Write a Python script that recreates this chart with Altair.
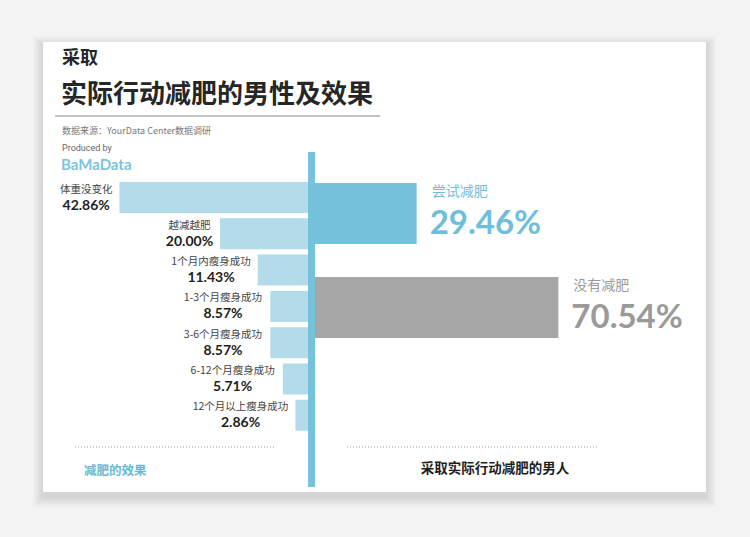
import altair as alt
import pandas as pd

# ---------------- data ----------------
effect_labels = ["体重没变化", "越减越肥", "1个月内瘦身成功", "1-3个月瘦身成功",
                 "3-6个月瘦身成功", "6-12个月瘦身成功", "12个月以上瘦身成功"]
effect_values = [42.86, 20.00, 11.43, 8.57, 8.57, 5.71, 2.86]

action_labels = ["尝试减肥", "没有减肥"]
action_values = [29.46, 70.54]

title_small = "采取"
title_main = "实际行动减肥的男性及效果"
source_text = "数据来源：YourData Center数据调研"
produced_text = "Produced by"
brand_text = "BaMaData"
left_caption = "减肥的效果"
right_caption = "采取实际行动减肥的男人"

# ---------------- styling ----------------
CJK = "Noto Sans CJK SC"
NUM = "Lato, DejaVu Sans Condensed, sans-serif"
BLUE = "#74c2dc"
HATCH = "#b3dbea"
GRAY = "#a6a6a6"

L_DOMAIN = [0, 50]
L_RANGE = [308, 88]
PX_PER = (L_RANGE[0] - L_RANGE[1]) / (L_DOMAIN[1] - L_DOMAIN[0])

R_DOMAIN = [0, 100]
R_RANGE = [315, 660]


def est_w(s, size, ascii_ratio=0.56):
    return sum(size if ord(c) > 255 else size * ascii_ratio for c in s)


pct_text = [f"{v:.2f}%" for v in effect_values]
lab_x = []
for lab, p, v in zip(effect_labels, pct_text, effect_values):
    w = max(est_w(lab, 10.5), est_w(p, 14, 0.56))
    lab_x.append(v + (7 + w / 2) / PX_PER)

left_df = pd.DataFrame({"label": effect_labels, "value": effect_values,
                        "pct": pct_text, "lab_x": lab_x})
right_df = pd.DataFrame({"label": action_labels, "share": action_values,
                         "pct": [f"{v:.2f}%" for v in action_values],
                         "tcolor": ["#6fbfdb", "#9a9a9a"]})

lx = alt.X("value:Q", scale=alt.Scale(domain=L_DOMAIN, range=L_RANGE), axis=None)
ly = alt.Y("label:N", sort=effect_labels,
           scale=alt.Scale(domain=effect_labels, range=[179.35, 433.45],
                           paddingInner=0.146, paddingOuter=0.073), axis=None)
ry = alt.Y("label:N", sort=action_labels,
           scale=alt.Scale(domain=action_labels, range=[166.5, 354.5],
                           paddingInner=0.35, paddingOuter=0.175), axis=None)
rx = alt.X("share:Q", scale=alt.Scale(domain=R_DOMAIN, range=R_RANGE), axis=None)

one = pd.DataFrame({"a": [0]})


def txt(text, x, y, size, color, font=CJK, weight="normal", align="left"):
    return alt.Chart(pd.DataFrame({"t": [text]})).mark_text(
        align=align, baseline="middle", fontSize=size, color=color,
        font=font, fontWeight=weight
    ).encode(x=alt.value(x), y=alt.value(y), text="t:N")


def box(x, x2, y, y2, color, opacity=1.0):
    return alt.Chart(one).mark_rect(color=color, opacity=opacity).encode(
        x=alt.value(x), x2=alt.value(x2), y=alt.value(y), y2=alt.value(y2))


layers = []
# card shadow (soft, slightly below)
for k in range(1, 11):
    layers.append(box(43 - k, 706 + k, 42 - k + 4, 492 + k + 5, "#000000", 0.012))
# card
layers.append(box(43, 706, 42, 492, "#ffffff"))

# titles
layers.append(txt(title_small, 62, 59, 18, "#262626", weight="bold"))
layers.append(txt(title_main, 61, 95, 26, "#262626", weight="bold"))
layers.append(alt.Chart(one).mark_rule(color="#8a8a8a", strokeWidth=1).encode(
    x=alt.value(55), x2=alt.value(380), y=alt.value(116)))
layers.append(txt(source_text, 62, 131, 9, "#777777"))
layers.append(txt(produced_text, 62, 148, 9, "#666666", font="Roboto"))
layers.append(txt(brand_text, 61, 165, 15, "#7cc4dc", font=NUM, weight="bold"))

# left bars (effects)
layers.append(alt.Chart(left_df).mark_bar(color=HATCH).encode(x=lx, y=ly))
lab_enc_x = alt.X("lab_x:Q", scale=alt.Scale(domain=L_DOMAIN, range=L_RANGE), axis=None)
layers.append(alt.Chart(left_df).mark_text(
    align="center", baseline="middle", fontSize=10.5, color="#444444", font=CJK, dy=-8
).encode(x=lab_enc_x, y=ly, text="label:N"))
layers.append(alt.Chart(left_df).mark_text(
    align="center", baseline="middle", fontSize=14, color="#1e1e1e", font=NUM,
    fontWeight="bold", dy=8
).encode(x=lab_enc_x, y=ly, text="pct:N"))

# right bars (actions)
layers.append(alt.Chart(right_df).mark_bar().encode(
    x=rx, y=ry,
    color=alt.Color("label:N", scale=alt.Scale(domain=action_labels, range=[BLUE, GRAY]),
                    legend=None)))
layers.append(alt.Chart(right_df).mark_text(
    align="left", baseline="middle", fontSize=14, font=CJK, dx=15, dy=-22
).encode(x=rx, y=ry, text="label:N", color=alt.Color("tcolor:N", scale=None)))
layers.append(alt.Chart(right_df).mark_text(
    align="left", baseline="middle", fontSize=33, font=NUM, fontWeight="bold",
    dx=13, dy=10
).encode(x=rx, y=ry, text="pct:N", color=alt.Color("tcolor:N", scale=None)))

# central vertical bar
layers.append(box(308, 315, 152, 487, BLUE))

# bottom dotted lines & captions
layers.append(alt.Chart(one).mark_rule(color="#9a9a9a", strokeDash=[1, 2]).encode(
    x=alt.value(75), x2=alt.value(275), y=alt.value(447)))
layers.append(alt.Chart(one).mark_rule(color="#9a9a9a", strokeDash=[1, 2]).encode(
    x=alt.value(347), x2=alt.value(598), y=alt.value(447)))
layers.append(txt(left_caption, 84, 471, 12.5, "#6ab8d2", weight="bold"))
layers.append(txt(right_caption, 495, 469, 13.5, "#1e1e1e", weight="bold", align="center"))

chart = alt.layer(*layers).resolve_scale(
    x="independent", y="independent", color="independent"
).properties(
    width=750, height=537, padding=0, background="#f3f3f3",
    autosize=alt.AutoSizeParams(type="none")
).configure_view(stroke=None)

chart.save("out.html", embed_options={"renderer": "svg", "actions": False})
